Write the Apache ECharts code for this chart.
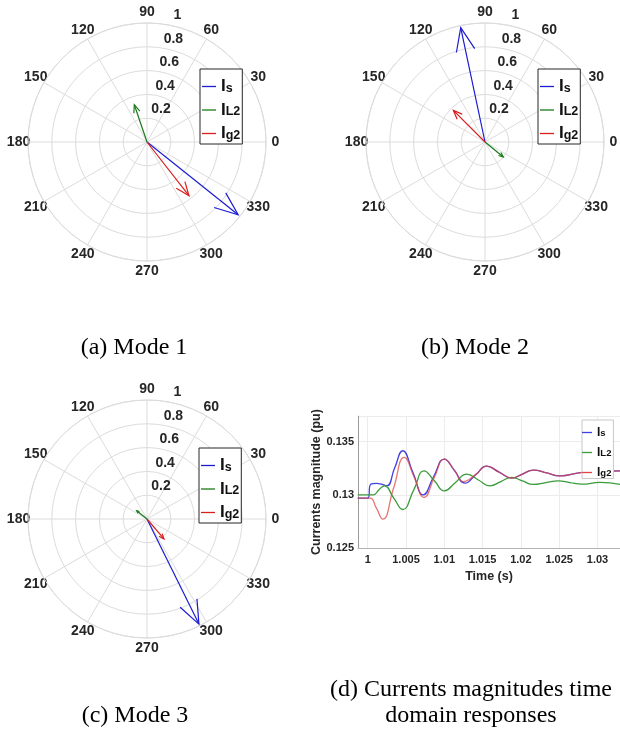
<!DOCTYPE html>
<html>
<head>
<meta charset="utf-8">
<title>Modes</title>
<script src="https://cdn.jsdelivr.net/npm/echarts@6.0.0/dist/echarts.min.js"></script>
<style>
    html, body {margin: 0; padding: 0; background: #fff;}
    #main {width: 620px; height: 733px;}
</style>
</head>
<body>
<div id="main"></div>
<script>
// phasors: magnitude (pu) and angle (deg), order Is, IL2, Ig2
var currentNames = ['Is', 'IL2', 'Ig2'];
var mode1Mag = [0.98, 0.331, 0.573];
var mode1Ang = [321.4, 108.8, 308];
var mode2Mag = [0.982, 0.199, 0.376];
var mode2Ang = [102, 320.7, 135];
var mode3Mag = [0.985, 0.111, 0.22];
var mode3Ang = [296.3, 141, 310.4];

// time domain responses
var isTime = [0.9987, 1.0, 1.0004, 1.0012, 1.0018, 1.0025, 1.0035, 1.00457, 1.0059, 1.00726, 1.0086, 1.01, 1.01135,
    1.0127, 1.0141, 1.01553, 1.01715, 1.0188, 1.0202, 1.02162, 1.0234, 1.0251, 1.0278, 1.0305, 1.033];
var isVals = [0.12969, 0.12969, 0.1310, 0.13108, 0.1310, 0.13085, 0.1325, 0.13415, 0.1321, 0.1300, 0.1317, 0.13337, 0.13225,
    0.1311, 0.1319, 0.1327, 0.13214, 0.13158, 0.13196, 0.13233, 0.13206, 0.13179, 0.1321, 0.1322, 0.13225];

var ilTime = [0.9987, 1.0007, 1.0015, 1.00217, 1.0034, 1.00457, 1.006, 1.00735, 1.0087, 1.01, 1.01146, 1.01292, 1.01445,
    1.01597, 1.01738, 1.0188, 1.0202, 1.02162, 1.02325, 1.02488, 1.0264, 1.02794, 1.03033, 1.033];
var ilVals = [0.1300, 0.1300, 0.1305, 0.13085, 0.1297, 0.12862, 0.13044, 0.13226, 0.13132, 0.13038, 0.13117, 0.13195, 0.1314,
    0.13085, 0.13125, 0.13164, 0.13131, 0.13098, 0.13115, 0.13132, 0.13116, 0.13101, 0.13117, 0.13098];

var igTime = [0.9987, 1.0003, 1.0011, 1.00196, 1.00337, 1.00478, 1.0061, 1.00735, 1.0087, 1.01, 1.01135, 1.01248, 1.0141,
    1.01553, 1.01715, 1.0188, 1.0202, 1.02162, 1.0234, 1.0251, 1.0278, 1.0305, 1.033];
var igVals = [0.12969, 0.12969, 0.1288, 0.12771, 0.13062, 0.13353, 0.1316, 0.12975, 0.13165, 0.13337, 0.1323, 0.13125, 0.1319,
    0.1327, 0.13214, 0.13158, 0.13196, 0.13233, 0.13206, 0.13179, 0.1321, 0.1322, 0.13225];

var phasorColors = ['#1c1cd2', '#197a19', '#d81e1e'];
var lineColors = ['#4040e2', '#3a9c3a', '#e04444'];
var gridGray = '#dcdcdc';
var sansFont = '"Liberation Sans", Arial, sans-serif';
var serifFont = '"Liberation Serif", "Times New Roman", serif';
var polarR = 119;

var tickFont = {color: '#262626', fontSize: 14, fontWeight: 'bold', fontFamily: sansFont};

var panels = [
    {center: [147, 142], legend: [200, 69], mags: mode1Mag, angs: mode1Ang},
    {center: [485, 142], legend: [538, 69], mags: mode2Mag, angs: mode2Ang},
    {center: [147, 519], legend: [199, 448], mags: mode3Mag, angs: mode3Ang}
];

function zip(xs, ys) {
    return xs.map(function (x, i) {
        return [x, ys[i]];
    });
}

// compass style arrow: barbs at 0.8 of length, +-0.08 sideways
function renderArrow(params, api) {
    var ang = api.value(1);
    var o = api.coord([0, ang]);
    var p = api.coord([api.value(0), ang]);
    var dx = p[0] - o[0], dy = p[1] - o[1];
    var b1 = [o[0] + 0.8 * dx - 0.08 * dy, o[1] + 0.8 * dy + 0.08 * dx];
    var b2 = [o[0] + 0.8 * dx + 0.08 * dy, o[1] + 0.8 * dy - 0.08 * dx];
    var st = {stroke: api.visual('color'), fill: null, lineWidth: 1.2};
    return {
        type: 'group',
        children: [
            {type: 'line', shape: {x1: o[0], y1: o[1], x2: p[0], y2: p[1]}, style: st},
            {type: 'polyline', shape: {points: [b1, p, b2]}, style: st}
        ]
    };
}

// theta labels: zero-width box so the text is centred on one radius
var digitW = 7.8;
function thetaLabel(v) {
    if (v === 360) {
        return '';
    }
    var s = String(v);
    return '{d' + s.length + '|' + s + '}';
}
function thetaRich() {
    var rich = {};
    [1, 2, 3].forEach(function (n) {
        var half = -n * digitW / 2;
        rich['d' + n] = Object.assign({padding: [0, half, 0, half], lineHeight: 2}, tickFont);
    });
    return rich;
}

function legendLabel(name) {
    return '{i|I}{s|' + name.slice(1) + '}';
}

function makeLegend(pos, colors, big) {
    return {
        orient: 'vertical',
        left: pos[0],
        top: pos[1],
        selectedMode: false,
        icon: 'rect',
        itemWidth: big ? 14 : 10,
        itemHeight: 1.3,
        itemGap: big ? 0.5 : 3,
        padding: big ? [3, 2, 2, 2] : [1.5, 2, 0, 0],
        backgroundColor: '#fff',
        borderColor: big ? '#262626' : '#c8c8c8',
        borderWidth: 1,
        borderRadius: 0,
        data: currentNames.map(function (n, i) {
            return {name: n, itemStyle: {color: colors[i]}};
        }),
        formatter: legendLabel,
        textStyle: {
            color: '#000',
            fontFamily: sansFont,
            rich: {
                i: {
                    fontSize: big ? 17 : 12, lineHeight: big ? 17 : 12, verticalAlign: 'top',
                    fontWeight: 'bold', fontFamily: sansFont, color: '#111'
                },
                s: {
                    fontSize: big ? 12.5 : 9.5, lineHeight: big ? 12.5 : 9.5, verticalAlign: 'bottom',
                    padding: [big ? 10 : 7, 0, 0, 0], fontWeight: 'bold', fontFamily: sansFont, color: '#111'
                }
            }
        }
    };
}

var polar = [], angleAxis = [], radiusAxis = [], series = [], legend = [];

panels.forEach(function (p, k) {
    var main = k * 2, lab = k * 2 + 1;
    polar.push({center: p.center, radius: polarR}, {center: p.center, radius: polarR});

    angleAxis.push({
        polarIndex: main,
        type: 'value',
        min: 0,
        max: 360,
        interval: 30,
        startAngle: 0,
        clockwise: false,
        axisLine: {lineStyle: {color: gridGray, width: 1}},
        axisTick: {show: false},
        axisLabel: Object.assign({
            margin: 9.5,
            lineHeight: 2,
            formatter: thetaLabel,
            rich: thetaRich()
        }, tickFont),
        splitLine: {lineStyle: {color: gridGray, width: 1}}
    }, {
        // only used to put the r labels at 80 deg
        polarIndex: lab,
        type: 'value',
        min: 0,
        max: 360,
        startAngle: 80,
        clockwise: false,
        show: false
    });

    radiusAxis.push({
        polarIndex: main,
        type: 'value',
        min: 0,
        max: 1,
        interval: 0.2,
        axisLine: {show: false},
        axisTick: {show: false},
        axisLabel: {show: false},
        splitLine: {lineStyle: {color: gridGray, width: 1}}
    }, {
        polarIndex: lab,
        type: 'value',
        min: 0,
        max: 1,
        interval: 0.2,
        axisLine: {show: false},
        axisTick: {show: false},
        splitLine: {show: false},
        axisLabel: Object.assign({
            margin: -10,
            align: 'center',
            verticalAlign: 'bottom',
            padding: [0, 0, 4, 0],
            showMinLabel: false
        }, tickFont)
    });

    currentNames.forEach(function (name, i) {
        series.push({
            name: name,
            type: 'custom',
            coordinateSystem: 'polar',
            polarIndex: main,
            itemStyle: {color: phasorColors[i]},
            renderItem: renderArrow,
            data: [[p.mags[i], p.angs[i]]],
            z: 3
        });
    });

    legend.push(makeLegend(p.legend, phasorColors, true));
});

// time domain plot
var lineData = [zip(isTime, isVals), zip(ilTime, ilVals), zip(igTime, igVals)];
currentNames.forEach(function (name, i) {
    series.push({
        name: name,
        type: 'line',
        xAxisIndex: 0,
        yAxisIndex: 0,
        showSymbol: false,
        smooth: 0.5,
        data: lineData[i],
        lineStyle: {color: lineColors[i], width: 1.3, opacity: i === 2 ? 0.75 : 1},
        itemStyle: {color: lineColors[i]}
    });
});
legend.push(makeLegend([582, 420], lineColors, false));

var smallTick = {color: '#262626', fontSize: 11, fontWeight: 'bold', fontFamily: sansFont};

var option = {
    backgroundColor: '#fff',
    animation: false,
    polar: polar,
    angleAxis: angleAxis,
    radiusAxis: radiusAxis,
    legend: legend,
    grid: {left: 358, top: 416.2, width: 262, height: 131.8, outerBoundsMode: 'none', containLabel: false},
    xAxis: {
        type: 'value',
        min: 0.99873,
        max: 1.03294,
        splitNumber: 7,
        name: 'Time (s)',
        nameLocation: 'middle',
        nameGap: 22,
        nameTextStyle: {color: '#262626', fontSize: 12.5, fontWeight: 'bold', fontFamily: sansFont},
        axisLine: {show: true, lineStyle: {color: '#b4b4b4'}},
        axisTick: {show: false},
        axisLabel: Object.assign({
            margin: 6,
            showMinLabel: false,
            showMaxLabel: false,
            formatter: function (v) {
                return String(+v.toFixed(4));
            }
        }, smallTick),
        splitLine: {show: true, lineStyle: {color: '#ececec'}}
    },
    yAxis: {
        type: 'value',
        min: 0.125,
        max: 0.1374,
        interval: 0.005,
        name: 'Currents magnitude (pu)',
        nameLocation: 'middle',
        nameGap: 32,
        nameTextStyle: {color: '#262626', fontSize: 12.5, fontWeight: 'bold', fontFamily: sansFont},
        axisLine: {show: true, lineStyle: {color: '#9a9a9a'}},
        axisTick: {show: false},
        axisLabel: Object.assign({
            margin: 4,
            showMaxLabel: false,
            formatter: function (v) {
                return String(+v.toFixed(4));
            }
        }, smallTick),
        splitLine: {show: true, lineStyle: {color: '#ececec'}}
    },
    graphic: [
        {type: 'text', x: 134, y: 348, style: {text: '(a) Mode 1', font: '24px ' + serifFont, fill: '#000', align: 'center', verticalAlign: 'middle', textAlign: 'center', textVerticalAlign: 'middle'}},
        {type: 'text', x: 475, y: 348, style: {text: '(b) Mode 2', font: '24px ' + serifFont, fill: '#000', align: 'center', verticalAlign: 'middle', textAlign: 'center', textVerticalAlign: 'middle'}},
        {type: 'text', x: 135, y: 716, style: {text: '(c) Mode 3', font: '24px ' + serifFont, fill: '#000', align: 'center', verticalAlign: 'middle', textAlign: 'center', textVerticalAlign: 'middle'}},
        {type: 'text', x: 471, y: 690, style: {text: '(d) Currents magnitudes time', font: '24px ' + serifFont, fill: '#000', align: 'center', verticalAlign: 'middle', textAlign: 'center', textVerticalAlign: 'middle'}},
        {type: 'text', x: 471, y: 716, style: {text: 'domain responses', font: '24px ' + serifFont, fill: '#000', align: 'center', verticalAlign: 'middle', textAlign: 'center', textVerticalAlign: 'middle'}}
    ],
    series: series
};

var myChart = echarts.init(document.getElementById('main'));
myChart.setOption(option);
</script>
</body>
</html>
